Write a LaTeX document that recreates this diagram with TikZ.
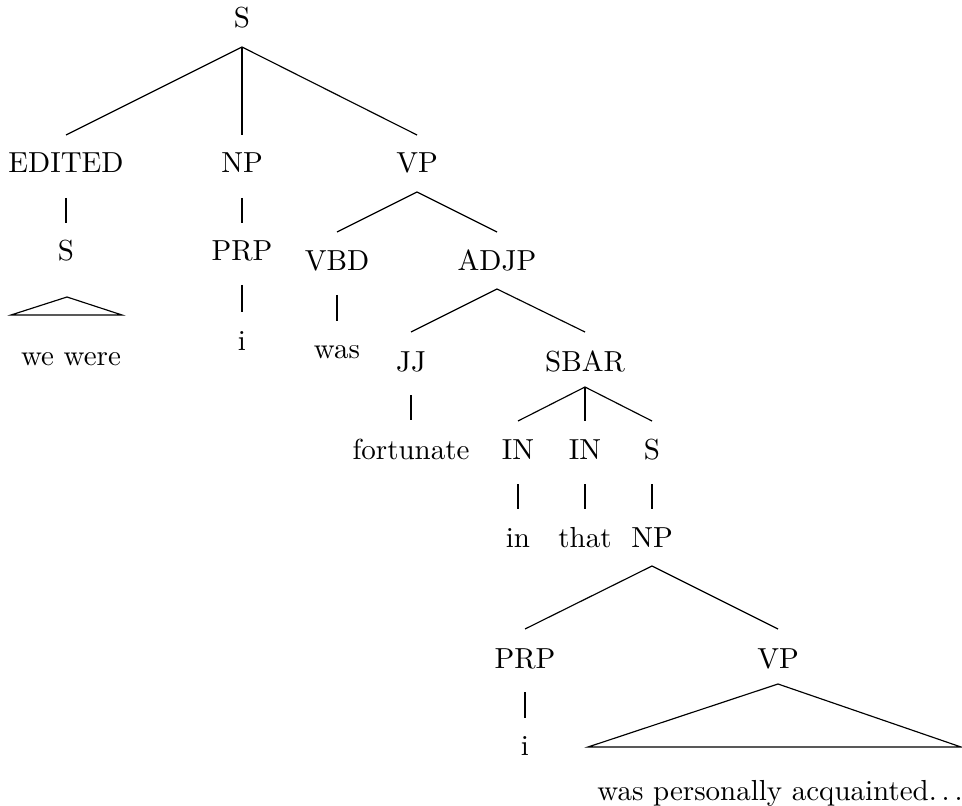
\documentclass[tikz,border=0pt]{standalone}
\usetikzlibrary{calc}
\begin{document}
\begin{tikzpicture}[x=0.345pt,y=-0.345pt,
  lbl/.style={anchor=base,inner sep=0pt},
  branch/.style={line width=0.4pt}]
\useasboundingbox (0,0) rectangle (962,806);
% edge from a parent (offset below its baseline) to a child (offset above its baseline)
\newcommand\treeedge[4]{\draw[branch] ($(#1.base)+(0,#2)$) -- ($(#3.base)+(0,-#4)$);}

% labels
\node[lbl] (s0)     at (242,28)  {S};
\node[lbl] (edited) at (66,173)  {EDITED};
\node[lbl] (np0)    at (242,173) {NP};
\node[lbl] (vp0)    at (417,173) {VP};
\node[lbl] (s1)     at (66,261)  {S};
\node[lbl] (prp1)   at (242,261) {PRP};
\node[lbl] (wewere) at (71,365)  {we were};
\node[lbl] (i1)     at (242,350) {i};
\node[lbl] (vbd)    at (337,270) {VBD};
\node[lbl] (adjp)   at (497,270) {ADJP};
\node[lbl] (was)    at (337,358) {was};
\node[lbl] (jj)     at (411,371) {JJ};
\node[lbl] (sbar)   at (585,371) {SBAR};
\node[lbl] (fort)   at (411,459) {fortunate};
\node[lbl] (in1)    at (518,459) {IN};
\node[lbl] (in2)    at (585,459) {IN};
\node[lbl] (s2)     at (652,459) {S};
\node[lbl] (in)     at (518,547) {in};
\node[lbl] (that)   at (585,547) {that};
\node[lbl] (np2)    at (652,547) {NP};
\node[lbl] (prp2)   at (525,668) {PRP};
\node[lbl] (vp2)    at (778,668) {VP};
\node[lbl] (i2)     at (525,755) {i};
\node[lbl] (waspa)  at (780,800) {was personally acquainted.\kern\fontdimen3\font.\kern\fontdimen3\font.};

% branches
\treeedge{s0}{19}{edited}{38}
\treeedge{s0}{19}{np0}{38}
\treeedge{s0}{19}{vp0}{38}
\treeedge{edited}{25}{s1}{38}
\treeedge{np0}{25}{prp1}{38}
\treeedge{prp1}{24}{i1}{38}
\treeedge{vp0}{19}{vbd}{38}
\treeedge{vp0}{19}{adjp}{38}
\treeedge{vbd}{25}{was}{37}
\treeedge{adjp}{19}{jj}{39}
\treeedge{adjp}{19}{sbar}{39}
\treeedge{jj}{24}{fort}{39}
\treeedge{sbar}{16}{in1}{38}
\treeedge{sbar}{16}{in2}{38}
\treeedge{sbar}{16}{s2}{38}
\treeedge{in1}{25}{in}{38}
\treeedge{in2}{25}{that}{38}
\treeedge{s2}{25}{np2}{38}
\treeedge{np2}{19}{prp2}{39}
\treeedge{np2}{19}{vp2}{39}
\treeedge{prp2}{24}{i2}{37}

% collapsed subtrees
\coordinate (t1) at ($(s1.base)+(1,36)$);
\coordinate (t1l) at (11,315);
\coordinate (t1r) at (122,315);
\draw[branch] (t1l) -- (t1) -- (t1r) -- cycle;
\coordinate (t2) at ($(vp2.base)+(0,16)$);
\coordinate (t2l) at (588,747);
\coordinate (t2r) at (961,747);
\draw[branch] (t2l) -- (t2) -- (t2r) -- cycle;
\end{tikzpicture}
\end{document}
